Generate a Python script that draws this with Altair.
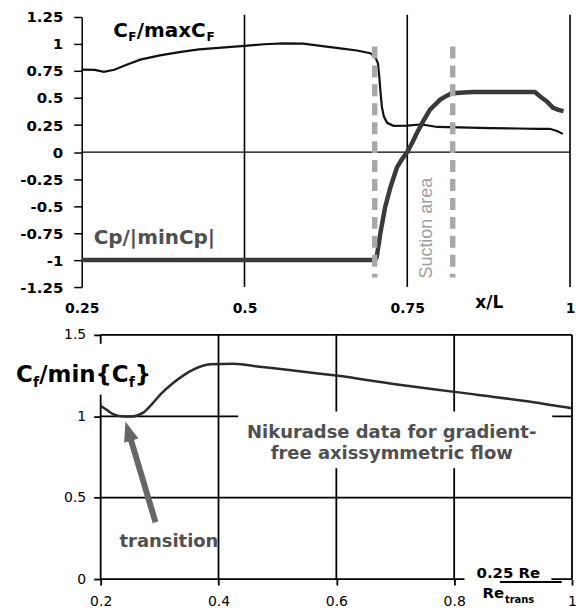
import altair as alt
import pandas as pd

# ---------------- top panel (x/L) ----------------
cf_x = [0.25, 0.27, 0.284, 0.30, 0.32, 0.34, 0.37, 0.40, 0.43, 0.46,
        0.50, 0.53, 0.56, 0.59, 0.62, 0.65, 0.673, 0.693, 0.701, 0.705,
        0.707, 0.709, 0.711, 0.714, 0.719, 0.729, 0.75, 0.77, 0.78, 0.796,
        0.83, 0.877, 0.92, 0.95, 0.969, 0.98, 0.989]
cf_y = [0.763, 0.760, 0.742, 0.762, 0.81, 0.855, 0.895, 0.925, 0.95, 0.965,
        0.982, 0.998, 1.006, 1.004, 0.98, 0.958, 0.94, 0.915, 0.88, 0.82,
        0.70, 0.55, 0.42, 0.33, 0.27, 0.243, 0.245, 0.255, 0.248, 0.232,
        0.228, 0.222, 0.218, 0.215, 0.215, 0.195, 0.168]

cp_x = [0.25, 0.40, 0.55, 0.70, 0.703, 0.7086, 0.716, 0.724, 0.734, 0.742,
        0.75, 0.758, 0.765, 0.775, 0.785, 0.8006, 0.81, 0.8186, 0.85, 0.90,
        0.946, 0.955, 0.964, 0.974, 0.982, 0.99]
cp_y = [-1.0, -1.0, -1.0, -1.0, -0.975, -0.756, -0.51, -0.33, -0.145, -0.065,
        0.0, 0.09, 0.178, 0.29, 0.393, 0.485, 0.52, 0.545, 0.555, 0.555,
        0.555, 0.51, 0.47, 0.41, 0.39, 0.378]

suction_x = [0.700, 0.8198]
top_grid_x = [0.5, 0.75, 1.0]
top_x_ticks = [0.25, 0.5, 0.75, 1.0]
top_y_ticks = [1.25, 1.0, 0.75, 0.5, 0.25, 0.0, -0.25, -0.5, -0.75, -1.0, -1.25]

# ---------------- bottom panel (0.25 Re / Re_trans) ----------------
nik_x = [0.200, 0.210, 0.222, 0.235, 0.250, 0.262, 0.273, 0.287, 0.302, 0.324,
         0.340, 0.358, 0.386, 0.425, 0.47, 0.52, 0.60, 0.70, 0.80, 0.92, 1.00]
nik_y = [1.065, 1.040, 1.012, 1.000, 0.998, 1.005, 1.024, 1.075, 1.136, 1.207,
         1.25, 1.288, 1.319, 1.323, 1.305, 1.285, 1.25, 1.197, 1.15, 1.094, 1.049]

bot_x_ticks = [0.2, 0.4, 0.6, 0.8, 1.0]
bot_y_ticks = [0.0, 0.5, 1.0, 1.5]

FONT = "DejaVu Sans"
GRAY_TXT = "#505050"
TW, TH = 490, 271
BW, BH = 492, 245

# ---------------- top chart ----------------
xs_t = alt.Scale(domain=[0.25, 1.0], nice=False, zero=False)
ys_t = alt.Scale(domain=[-1.25, 1.25], nice=False, zero=False)
ax_t_x = alt.Axis(values=top_x_ticks, title=None, domain=False, ticks=False, tickSize=0,
                  grid=False, labelPadding=15, labelFlush=False, labelOverlap=False,
                  labelFont=FONT, labelFontSize=14, labelFontWeight="bold",
                  labelColor="black", labelExpr="toString(datum.value)")
ax_t_y = alt.Axis(values=top_y_ticks, title=None, domain=True, domainColor="black",
                  domainWidth=1.5, ticks=True, tickColor="black", tickWidth=1.5,
                  tickSize=8, grid=False, labelPadding=11, labelOverlap=False,
                  labelFont=FONT, labelFontSize=15, labelFontWeight="bold",
                  labelColor="black", labelExpr="toString(datum.value)")


def TX():
    return alt.X("x:Q", scale=xs_t, axis=ax_t_x)


def TY():
    return alt.Y("y:Q", scale=ys_t, axis=ax_t_y)


def ttext(x, y, text, **mk):
    return alt.Chart(pd.DataFrame({"x": [x], "y": [y], "t": [text]})).mark_text(**mk).encode(
        x=TX(), y=TY(), text="t:N")


vgrid_t = alt.Chart(pd.DataFrame({"x": top_grid_x, "y": [1.27] * 3, "y2": [-1.25] * 3})).mark_rule(
    color="black", strokeWidth=1.6).encode(x=TX(), y=TY(), y2="y2:Q")
zero_t = alt.Chart(pd.DataFrame({"x": [0.25], "x2": [1.0], "y": [0.0]})).mark_rule(
    color="black", strokeWidth=1.2).encode(x=TX(), x2="x2:Q", y=TY())
line_cf = alt.Chart(pd.DataFrame({"x": cf_x, "y": cf_y})).mark_line(
    color="#111111", strokeWidth=2.2).encode(x=TX(), y=TY())
line_cp = alt.Chart(pd.DataFrame({"x": cp_x, "y": cp_y})).mark_line(
    color="#3a3a3a", strokeWidth=4.5).encode(x=TX(), y=TY())
dash_t = alt.Chart(pd.DataFrame({"x": suction_x, "y": [0.977] * 2, "y2": [-1.161] * 2})).mark_rule(
    color="#a8a8a8", strokeWidth=5.5, strokeDash=[12, 7]).encode(x=TX(), y=TY(), y2="y2:Q")

bold = dict(font=FONT, fontWeight="bold", align="left", baseline="alphabetic")
cf_lbl = [
    ttext(0.2986, 1.0617, "C", fontSize=20, color="black", **bold),
    ttext(0.2986, 1.0617, "F", fontSize=12, dx=15, dy=3.5, color="black", **bold),
    ttext(0.2986, 1.0617, "/maxC", fontSize=20, dx=23.5, color="black", **bold),
    ttext(0.2986, 1.0617, "F", fontSize=12, dx=93.5, dy=3.5, color="black", **bold),
]
cp_lbl = ttext(0.2684, -0.85, "Cp/|minCp|", fontSize=20, color=GRAY_TXT, **bold)
xl_lbl = ttext(0.876, -1.445, "x/L", fontSize=17, font=FONT, fontWeight="bold",
               align="center", baseline="alphabetic", color="black")
suction_lbl = ttext(0.7884, -0.705, "Suction area", fontSize=18, font="Liberation Sans",
                    angle=270, align="center", baseline="alphabetic", color="#a0a0a0")

top = alt.layer(vgrid_t, zero_t, line_cf, line_cp, dash_t, *cf_lbl, cp_lbl, xl_lbl,
                suction_lbl).properties(width=TW, height=TH)

# ---------------- bottom chart ----------------
xs_b = alt.Scale(domain=[0.2 - 19 / 591, 1.0], nice=False, zero=False)
ys_b = alt.Scale(domain=[0.0, 1.5], nice=False, zero=False)
ax_b_x = alt.Axis(values=bot_x_ticks, title=None, domain=False, ticks=True, tickColor="black",
                  tickWidth=1.8, tickSize=6, grid=False, labelPadding=10, labelFlush=False,
                  labelOverlap=False, labelFont=FONT, labelFontSize=14, labelColor="black",
                  labelExpr="toString(datum.value)")
ax_b_y = alt.Axis(values=bot_y_ticks, title=None, domain=False, offset=-19, ticks=True,
                  tickColor="black", tickWidth=1.8, tickSize=7, grid=False, labelPadding=8,
                  labelOverlap=False, labelFont=FONT, labelFontSize=14, labelColor="black",
                  labelExpr="toString(datum.value)")


def BX():
    return alt.X("x:Q", scale=xs_b, axis=ax_b_x)


def BY():
    return alt.Y("y:Q", scale=ys_b, axis=ax_b_y)


def btext(x, y, text, **mk):
    return alt.Chart(pd.DataFrame({"x": [x], "y": [y], "t": [text]})).mark_text(**mk).encode(
        x=BX(), y=BY(), text="t:N")


hgrid_b = alt.Chart(pd.DataFrame({"x": [0.2] * 4, "x2": [1.0] * 4, "y": bot_y_ticks})).mark_rule(
    color="black", strokeWidth=1.8).encode(x=BX(), x2="x2:Q", y=BY())
vgrid_b = alt.Chart(pd.DataFrame({"x": bot_x_ticks, "y": [0.0] * 5, "y2": [1.5] * 5})).mark_rule(
    color="black", strokeWidth=1.8).encode(x=BX(), y=BY(), y2="y2:Q")
gaps_b = alt.Chart(pd.DataFrame({
    "x": [0.4335, 0.19, 0.8176],
    "x2": [0.9665, 0.21, 0.965],
    "y": [0.6815, 1.133, -0.015],
    "y2": [1.029, 1.445, 0.015],
})).mark_rect(color="white").encode(x=BX(), x2="x2:Q", y=BY(), y2="y2:Q")
line_nik = alt.Chart(pd.DataFrame({"x": nik_x, "y": nik_y})).mark_line(
    color="#2b2b2b", strokeWidth=2.5, interpolate="monotone").encode(x=BX(), y=BY())
arrow_shaft = alt.Chart(pd.DataFrame({"x": [0.2931, 0.2470], "y": [0.349, 0.9088]})).mark_line(
    color="#666666", strokeWidth=6).encode(x=BX(), y=BY())
arrow_head = alt.Chart(pd.DataFrame({"x": [0.2470], "y": [0.9088]})).mark_point(
    shape="M0,-1L-0.75,1L0.75,1Z", size=400, angle=343, filled=True, opacity=1,
    color="#666666").encode(x=BX(), y=BY())

cfm = dict(font=FONT, fontWeight="bold", align="left", baseline="alphabetic", color="black")
cfmin_lbl = [
    btext(0.0562, 1.2125, "C", fontSize=23, **cfm),
    btext(0.0562, 1.2125, "f", fontSize=14, dx=17.2, dy=5, **cfm),
    btext(0.0562, 1.2125, "/min{C", fontSize=23, dx=23.3, **cfm),
    btext(0.0562, 1.2125, "f", fontSize=14, dx=113.2, dy=5, **cfm),
    btext(0.0562, 1.2125, "}", fontSize=23, dx=119.3, **cfm),
]
gtxt = dict(font=FONT, fontWeight="bold", align="center", baseline="alphabetic",
            color=GRAY_TXT, fontSize=18)
trans_lbl = btext(0.3159, 0.196, "transition", **gtxt)
nik1 = btext(0.694, 0.8696, "Nikuradse data for gradient-", **gtxt)
nik2 = btext(0.694, 0.7348, "free axissymmetric flow", **gtxt)

re_num = btext(0.892, 0.006, "0.25 Re", fontSize=15, font=FONT, fontWeight="bold",
               align="center", baseline="alphabetic", color="black")
re_bar = alt.Chart(pd.DataFrame({"x": [0.8775], "x2": [0.9825], "y": [-0.018]})).mark_rule(
    color="black", strokeWidth=1.8).encode(x=BX(), x2="x2:Q", y=BY())
re_den = [
    btext(0.848, -0.116, "Re", fontSize=15, **cfm),
    btext(0.848, -0.116, "trans", fontSize=10, dx=22.5, dy=5, **cfm),
]

bottom = alt.layer(hgrid_b, vgrid_b, gaps_b, line_nik, arrow_shaft, arrow_head, *cfmin_lbl,
                   trans_lbl, nik1, nik2, re_num, re_bar, *re_den).properties(width=BW, height=BH)

chart = alt.vconcat(top, bottom, spacing=10).properties(
    padding={"left": 15, "top": 8, "right": 0, "bottom": 0},
    background="white",
).configure_view(stroke="transparent")

chart.save("out.html", embed_options={"renderer": "svg", "actions": False})
